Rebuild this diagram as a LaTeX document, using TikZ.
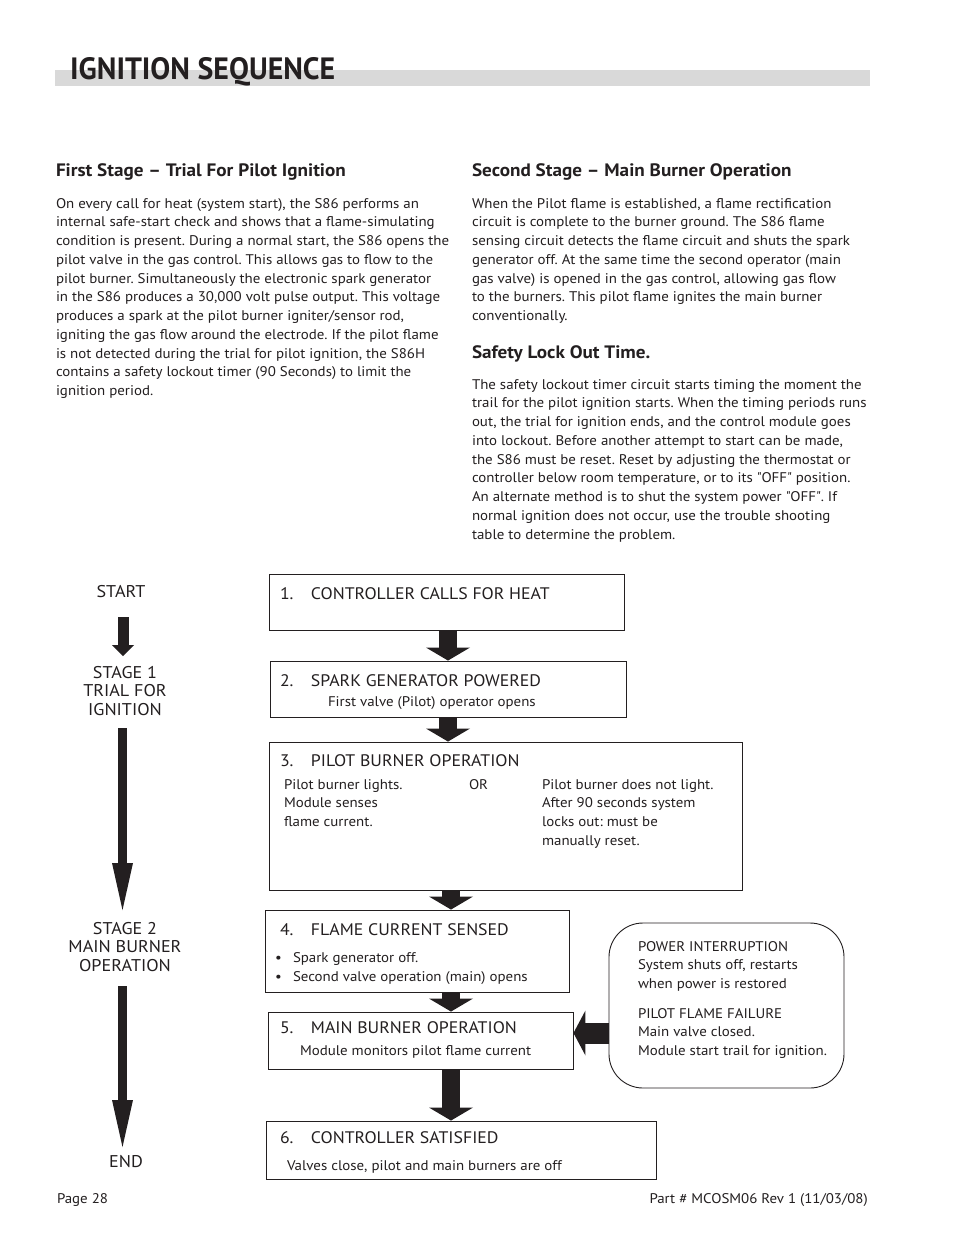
\documentclass[tikz,border=0pt]{standalone}
\usepackage{fontspec}
\usepackage{graphicx}
\setmainfont{PT Sans}[FakeStretch=1.065]
\usetikzlibrary{arrows.meta}
\definecolor{ink}{HTML}{231F20}
\definecolor{barc}{HTML}{D9D9D9}
\begin{document}
\frenchspacing
\begin{tikzpicture}[x=1pt,y=-1pt,
  txt/.style={anchor=base west, inner sep=0pt, outer sep=0pt, text=ink, font=\fontsize{14}{18.75}\selectfont},
  ttl/.style={anchor=base west, inner sep=0pt, outer sep=0pt, text=ink, font=\fontsize{16.7}{18.75}\selectfont},
  hd/.style={anchor=base west, inner sep=0pt, outer sep=0pt, text=ink, font=\fontsize{18}{20}\selectfont\bfseries},
  stagetxt/.style={anchor=base, inner sep=0pt, outer sep=0pt, text=ink, font=\fontsize{17}{18.6}\selectfont},
  box/.style={draw=ink, line width=0.9pt, inner sep=0pt},
  blk/.style={ink, line width=18pt, -{Triangle[width=44pt,length=13pt,line width=0pt]}},
  vthick/.style={ink, line width=11pt, -{Triangle[width=22pt,length=11pt,line width=0pt]}},
  vthin/.style={ink, line width=9pt, -{Triangle[width=21pt,length=47pt,line width=0pt]}},
  side/.style={ink, line width=21pt, -{Triangle[width=45pt,length=12pt,line width=0pt]}}
]
\useasboundingbox (0,0) rectangle (954,1235);
\fill[white] (0,0) rectangle (954,1235);

% header
\fill[barc] (55,70) rectangle (870,86);
\node[anchor=base west, inner sep=0pt, text=ink] (title) at (70,79) {\resizebox{265pt}{22pt}{\bfseries IGNITION SEQUENCE}};

% column 1
\node[hd] (h1) at (56,176) {First Stage – Trial For Pilot Ignition};
\node[txt] (p1) at (56,208) {\parbox[t]{460pt}{On every call for heat (system start), the S86 performs an\\
internal safe-start check and shows that a flame-simulating\\
condition is present. During a normal start, the S86 opens the\\
pilot valve in the gas control. This allows gas to flow to the\\
pilot burner. Simultaneously the electronic spark generator\\
in the S86 produces a 30,000 volt pulse output. This voltage\\
produces a spark at the pilot burner igniter/sensor rod,\\
igniting the gas flow around the electrode. If the pilot flame\\
is not detected during the trial for pilot ignition, the S86H\\
contains a safety lockout timer (90 Seconds) to limit the\\
ignition period.}};

% column 2
\node[hd] (h2) at (472,176) {Second Stage – Main Burner Operation};
\node[txt] (p2) at (472,208) {\parbox[t]{460pt}{When the Pilot flame is established, a flame rectification\\
circuit is complete to the burner ground. The S86 flame\\
sensing circuit detects the flame circuit and shuts the spark\\
generator off. At the same time the second operator (main\\
gas valve) is opened in the gas control, allowing gas flow\\
to the burners. This pilot flame ignites the main burner\\
conventionally.}};
\node[hd] (h3) at (472,358) {Safety Lock Out Time.};
\node[txt] (p3) at (472,389) {\parbox[t]{460pt}{The safety lockout timer circuit starts timing the moment the\\
trail for the pilot ignition starts. When the timing periods runs\\
out, the trial for ignition ends, and the control module goes\\
into lockout. Before another attempt to start can be made,\\
the S86 must be reset. Reset by adjusting the thermostat or\\
controller below room temperature, or to its \textquotedbl OFF\textquotedbl{} position.\\
An alternate method is to shut the system power \textquotedbl OFF\textquotedbl. If\\
normal ignition does not occur, use the trouble shooting\\
table to determine the problem.}};

% flow boxes
\node[box, minimum width=355pt, minimum height=56pt] (b1) at (446.5,602) {};
\node[box, minimum width=356pt, minimum height=56pt] (b2) at (448,689) {};
\node[box, minimum width=473pt, minimum height=148pt] (b3) at (505.5,816) {};
\node[box, minimum width=304pt, minimum height=82pt] (b4) at (417,951) {};
\node[box, minimum width=305pt, minimum height=57pt] (b5) at (420.5,1040.5) {};
\node[box, minimum width=390pt, minimum height=58pt] (b6) at (461,1150) {};
\node[box, rounded corners=34pt, minimum width=235pt, minimum height=165pt] (rb) at (726.5,1005.5) {};

% box texts
\node[ttl] (t1) at (280,599) {\makebox[31pt][l]{1.}CONTROLLER CALLS FOR HEAT};
\node[ttl] (t2) at (280,686) {\makebox[31pt][l]{2.}SPARK GENERATOR POWERED};
\node[txt] (s2) at (328,706) {First valve (Pilot) operator opens};
\node[ttl] (t3) at (280,766) {\makebox[31pt][l]{3.}PILOT BURNER OPERATION};
\node[txt] (s3a) at (284,789) {\parbox[t]{200pt}{Pilot burner lights.\\Module senses\\flame current.}};
\node[txt] (s3b) at (469,789) {OR};
\node[txt] (s3c) at (542,789) {\parbox[t]{200pt}{Pilot burner does not light.\\After 90 seconds system\\locks out: must be\\manually reset.}};
\node[ttl] (t4) at (280,935) {\makebox[31pt][l]{4.}FLAME CURRENT SENSED};
\node[txt] (s4a) at (275,962) {•};
\node[txt] (s4b) at (293,962) {Spark generator off.};
\node[txt] (s4c) at (275,981) {•};
\node[txt] (s4d) at (293,981) {Second valve operation (main) opens};
\node[ttl] (t5) at (280,1033) {\makebox[31pt][l]{5.}MAIN BURNER OPERATION};
\node[txt] (s5) at (300,1055) {Module monitors pilot flame current};
\node[ttl] (t6) at (280,1143) {\makebox[31pt][l]{6.}CONTROLLER SATISFIED};
\node[txt] (s6) at (287,1170) {Valves close, pilot and main burners are off};
\node[txt] (r1) at (638,951) {\parbox[t]{200pt}{POWER INTERRUPTION\\System shuts off, restarts\\when power is restored}};
\node[txt] (r2) at (638,1018) {\parbox[t]{200pt}{PILOT FLAME FAILURE\\Main valve closed.\\Module start trail for ignition.}};

% block arrows between boxes
\coordinate (ax1) at (448,0);
\coordinate (ax2) at (451,0);
\coordinate (ly) at (0,1033);
\draw[blk] (b1.south -| ax1) -- (b2.north -| ax1);
\draw[blk] (b2.south -| ax1) -- (b3.north -| ax1);
\draw[blk] (b3.south -| ax2) -- (b4.north -| ax2);
\draw[blk] (b4.south -| ax2) -- (b5.north -| ax2);
\draw[blk] (b5.south -| ax2) -- (b6.north -| ax2);
\draw[side] (rb.west |- ly) -- (b5.east |- ly);

% left stage column
\node[stagetxt] (start) at (121,597) {START};
\node[stagetxt] (st1) at (125,678) {\parbox[t]{130pt}{\centering STAGE 1\\TRIAL FOR\\IGNITION}};
\node[stagetxt] (st2) at (125,934) {\parbox[t]{130pt}{\centering STAGE 2\\MAIN BURNER\\OPERATION}};
\node[stagetxt] (endl) at (126,1167) {END};
\coordinate (la1) at (123,617);
\coordinate (lb1) at (123,656);
\coordinate (la2) at (122.5,728);
\coordinate (lb2) at (122.5,910);
\coordinate (la3) at (122.5,986);
\coordinate (lb3) at (122.5,1147);
\draw[vthick] (la1) -- (lb1);
\draw[vthin] (la2) -- (lb2);
\draw[vthin] (la3) -- (lb3);

% footer
\node[txt] (pg) at (57,1203) {Page 28};
\node[anchor=base east, inner sep=0pt, text=ink, font=\fontsize{14}{18}\selectfont] (part) at (868,1203) {Part \# MCOSM06 Rev 1 (11/03/08)};
\end{tikzpicture}
\end{document}
